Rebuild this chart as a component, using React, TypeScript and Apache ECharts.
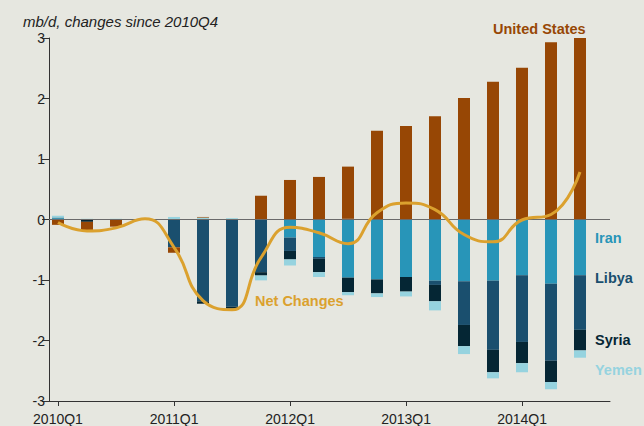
import React, { useEffect, useRef } from "react";
import * as echarts from "echarts";

const quarters = [
  "2010Q1", "2010Q2", "2010Q3", "2010Q4",
  "2011Q1", "2011Q2", "2011Q3", "2011Q4",
  "2012Q1", "2012Q2", "2012Q3", "2012Q4",
  "2013Q1", "2013Q2", "2013Q3", "2013Q4",
  "2014Q1", "2014Q2", "2014Q3",
];
const tickQuarters = ["2010Q1", "2011Q1", "2012Q1", "2013Q1", "2014Q1"];

const unitedStates = [-0.08, -0.14, -0.11, 0, -0.09, 0.01, 0, 0.4, 0.66, 0.71, 0.86, 1.47, 1.55, 1.71, 2.01, 2.28, 2.51, 2.93, 3.0];
const iran = [0.03, 0, 0, 0, 0, 0, 0, 0, -0.29, -0.61, -0.95, -0.98, -0.94, -1.0, -1.01, -1.0, -0.91, -1.05, -0.91];
const libya = [0.01, 0, 0, 0, -0.45, -1.34, -1.43, -0.86, -0.22, -0.03, 0.02, 0, 0, -0.07, -0.72, -1.14, -1.1, -1.27, -0.9];
const syria = [0, -0.03, 0, 0, 0, -0.04, -0.03, -0.055, -0.14, -0.22, -0.24, -0.23, -0.24, -0.27, -0.35, -0.37, -0.35, -0.35, -0.34];
const yemen = [0.03, 0.02, 0.02, 0, 0.05, 0.04, 0.03, -0.08, -0.1, -0.08, -0.05, -0.06, -0.08, -0.15, -0.13, -0.1, -0.15, -0.12, -0.12];
const netChanges = [-0.04, -0.18, -0.13, 0.02, -0.45, -1.33, -1.48, -0.62, -0.12, -0.21, -0.39, 0.12, 0.28, 0.17, -0.24, -0.36, 0.0, 0.09, 0.79];

const C_US = "#974705";
const C_IRAN = "#2895b8";
const C_LIBYA = "#1a4f6e";
const C_SYRIA = "#052634";
const C_YEMEN = "#96d3df";
const C_NET = "#dba12e";
const BG = "#e6e7e0";
const FONT = "Liberation Sans, Arial, sans-serif";

export default function App() {
  const ref = useRef<HTMLDivElement>(null);
  useEffect(() => {
    document.body.style.margin = "0";
    const chart = echarts.init(ref.current!, undefined, { renderer: "svg" });
    const tickIdx = tickQuarters.map((q) => quarters.indexOf(q));
    const bar = (name: string, data: number[], color: string) => ({
      name,
      type: "bar",
      stack: "total",
      barWidth: 12,
      xAxisIndex: 1,
      yAxisIndex: 1,
      data,
      itemStyle: { color },
      z: 2,
    });
    const label = (text: string, left: number, top: number, fill: string, size = 14.5) => ({
      type: "text",
      left,
      top,
      style: { text, fill, font: `bold ${size}px ${FONT}` },
    });
    chart.setOption({
      animation: false,
      backgroundColor: BG,
      textStyle: { fontFamily: FONT },
      grid: [
        { left: 49, right: 34, top: 38, bottom: 24 },
        { left: 43.5, right: 49.5, top: 38, bottom: 24 },
      ],
      xAxis: [
        {
          gridIndex: 0,
          type: "value",
          min: -0.31,
          max: 19.03,
          axisLine: { show: true, onZero: false, lineStyle: { color: "#333", width: 1 } },
          axisTick: { show: true, customValues: tickIdx, length: 5, lineStyle: { color: "#333" } },
          axisLabel: {
            customValues: tickIdx,
            formatter: (v: number) => quarters[Math.round(v)] ?? "",
            color: "#222",
            fontSize: 14,
            margin: 11,
          },
          splitLine: { show: false },
        },
        {
          gridIndex: 1,
          type: "category",
          data: quarters,
          boundaryGap: true,
          show: false,
        },
      ],
      yAxis: [
        {
          gridIndex: 0,
          type: "value",
          min: -3,
          max: 3,
          interval: 1,
          axisLine: { show: true, onZero: false, lineStyle: { color: "#333", width: 1 } },
          axisTick: { show: true, length: 7, lineStyle: { color: "#333" } },
          axisLabel: { color: "#222", fontSize: 14, margin: 4 },
          splitLine: { show: false },
        },
        {
          gridIndex: 1,
          type: "value",
          min: -3,
          max: 3,
          interval: 1,
          show: false,
          splitLine: { show: false },
        },
      ],
      series: [
        bar("Iran", iran, C_IRAN),
        bar("Libya", libya, C_LIBYA),
        bar("Syria", syria, C_SYRIA),
        bar("Yemen", yemen, C_YEMEN),
        bar("United States", unitedStates, C_US),
        {
          name: "zero",
          type: "line",
          xAxisIndex: 0,
          yAxisIndex: 0,
          data: [],
          z: 3,
          markLine: {
            silent: true,
            symbol: "none",
            label: { show: false },
            lineStyle: { color: "#6a6a6a", width: 1.2, type: "solid" },
            data: [{ yAxis: 0 }],
          },
        },
        {
          name: "Net Changes",
          type: "line",
          xAxisIndex: 1,
          yAxisIndex: 1,
          data: netChanges,
          smooth: 0.5,
          showSymbol: false,
          symbol: "none",
          lineStyle: { color: C_NET, width: 3 },
          z: 5,
        },
      ],
      graphic: [
        {
          type: "text",
          left: 23,
          top: 14,
          style: { text: "mb/d, changes since 2010Q4", fill: "#222", font: `italic 15px ${FONT}` },
        },
        label("United States", 493, 21, C_US),
        label("Iran", 595, 230, C_IRAN),
        label("Libya", 595, 270, C_LIBYA),
        label("Syria", 595, 332, C_SYRIA),
        label("Yemen", 595, 362, C_YEMEN),
        label("Net Changes", 255, 293, C_NET),
      ],
    });
    return () => chart.dispose();
  }, []);
  return (
    <div
      ref={ref}
      style={{ position: "absolute", left: 0, top: 0, width: 644, height: 426, background: BG }}
    />
  );
}
